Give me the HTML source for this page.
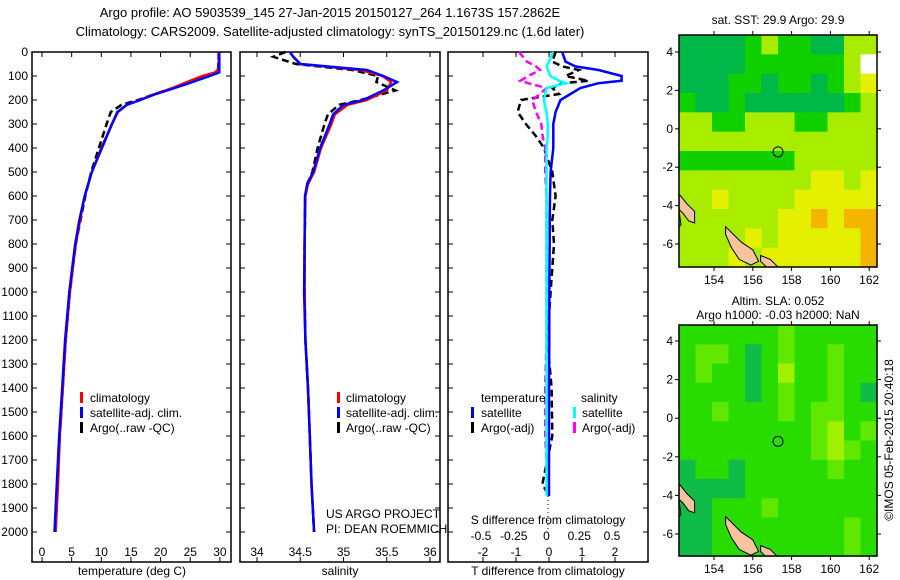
<!DOCTYPE html>
<html><head><meta charset="utf-8"><style>
html,body{margin:0;padding:0;background:#fff;}
svg{display:block;font-family:"Liberation Sans",sans-serif;}
</style></head><body>
<svg id="fig" width="900" height="580" viewBox="0 0 900 580"></svg>
<script>
// ---- data ----
const tDepth=[0,70,85,100,130,150,175,200,220,250,300,400,500,600,700,800,900,1000,1200,1400,1600,1800,2000];
const tClim=[29.8,29.8,29.2,27,24,22,19,16.5,14.3,12.8,11.8,10,8.4,7.2,6.4,5.7,5.2,4.7,4.0,3.5,3.0,2.7,2.3];
const tSat=[29.9,29.9,29.9,28.3,24.8,22.4,19.2,16.6,14.3,12.7,11.8,10.1,8.4,7.2,6.3,5.6,5.1,4.6,3.9,3.4,2.9,2.5,2.1];
const tArgo=[29.8,29.7,29.4,27.3,24.2,22.1,19.0,16.2,13.4,11.6,10.9,9.6,8.3,7.3,6.5,5.7,5.2,4.7,4.0,3.5,3.0,2.6,2.3];
const sDepth=[0,20,50,75,100,125,160,200,220,260,300,400,500,550,600,800,1000,1200,1400,1600,1800,2000];
const sClim=[34.38,34.42,34.5,35.2,35.45,35.55,35.5,35.27,35.05,34.9,34.86,34.74,34.66,34.59,34.56,34.55,34.55,34.56,34.59,34.61,34.63,34.66];
const sSat=[34.38,34.42,34.5,35.27,35.46,35.62,35.46,35.23,35.0,34.88,34.84,34.73,34.65,34.58,34.555,34.55,34.545,34.56,34.59,34.61,34.63,34.66];
const sArgo=[34.33,34.19,34.45,35.1,35.4,35.38,35.6,35.2,34.95,34.82,34.78,34.7,34.64,34.58,34.56,34.55,34.55,34.56,34.59,34.61,34.63,34.66];
const dDepth=[0,40,60,75,100,120,130,150,175,200,250,300,350,400,500,600,700,800,1000,1200,1400,1600,1800,1850];
const dTsat=[0.4,0.5,0.8,1.5,2.2,2.2,1.5,0.95,0.65,0.35,0.2,0.13,0.13,0.13,0.05,0.03,0.02,0.02,0.01,0.01,0,0,0,0];
const dSsat=[0.05,0.02,0,0.01,0.03,0.1,0.15,0,-0.01,-0.02,0,0.01,0.01,0,0,0,0,0,0,0,0,0,0,0];
const dTargo=[0.2,0.1,0.4,0.9,0.5,1.2,0.4,0.1,0.3,-0.85,-0.95,-0.7,-0.4,-0.15,0.1,0.2,0.1,0.15,0.05,-0.05,0.08,0.1,-0.2,0];
const dSargo=[-0.21,-0.15,-0.08,-0.05,-0.14,-0.2,-0.14,0,-0.05,-0.11,-0.08,-0.04,-0.03,-0.01,-0.01,0,0,0,0,0,-0.01,-0.01,0.01,0];
const tTicks=[0,5,10,15,20,25,30];
const sTicks=[34,34.5,35,35.5,36];
const dTticks=[-2,-1,0,1,2];
const dSticks=[-0.5,-0.25,0,0.25,0.5];
const depthTicks=[0,100,200,300,400,500,600,700,800,900,1000,1100,1200,1300,1400,1500,1600,1700,1800,1900,2000];
const sstGrid=[
[0,0,0,0,1,2,1,1,0,0,2,2],[0,0,0,0,1,1,1,1,1,1,2,5],[0,0,0,1,1,0,1,1,0,1,2,3],[1,0,0,1,0,0,0,0,0,0,1,2],
[2,2,1,1,2,2,2,1,1,2,2,2],[2,2,2,2,2,2,2,2,2,2,2,2],[1,1,1,1,1,1,1,2,2,2,2,2],[2,2,2,2,2,2,2,2,3,3,2,3],
[2,2,3,2,2,2,2,3,3,3,3,3],[2,2,2,2,2,2,3,3,4,3,4,4],[2,2,2,2,3,2,3,3,3,3,3,4],[2,2,2,3,2,3,3,3,3,3,3,4]];
const slaGrid=[
[1,1,1,1,1,1,2,1,1,1,1,1],[1,2,2,1,0,1,2,1,1,2,1,1],[1,2,1,1,0,1,3,1,1,2,1,1],[1,1,1,1,0,1,2,1,1,2,1,0],
[1,1,2,1,1,1,2,1,2,2,1,1],[1,1,1,1,1,1,1,1,2,3,1,2],[1,1,1,1,1,1,1,1,2,3,2,1],[0,1,1,0,1,1,1,1,1,2,1,1],
[0,0,0,0,1,1,1,1,1,1,1,1],[0,0,1,1,1,2,1,1,1,1,1,1],[0,0,1,1,1,1,1,1,1,1,2,1],[0,0,1,1,1,1,1,1,1,1,2,1]];
const mapXTicks=[154,156,158,160,162];
const mapYTicks=[4,2,0,-2,-4,-6];
const argoPos=[157.3,-1.2];

const NS='http://www.w3.org/2000/svg';
const svg=document.getElementById('fig');
function el(tag,attrs,parent,txt){const e=document.createElementNS(NS,tag);for(const k in attrs)e.setAttribute(k,attrs[k]);if(txt!==undefined)e.textContent=txt;(parent||svg).appendChild(e);return e;}
const yD=d=>52+d*0.24;
const PT=532, PB=562;

function panel(name,x0,x1){
  const g=el('g',{});
  
  
  el('rect',{x:x0,y:52,width:x1-x0,height:PB-52,fill:'#fff',stroke:'#000','stroke-width':1.5},g);
  return g;
}
function line(g,xs,ys,fx,color,dash,name){
  const p=xs.map((v,i)=>fx(v).toFixed(1)+','+yD(ys[i]).toFixed(1)).join(' ');
  const e=el('polyline',{points:p,fill:'none',stroke:color,'stroke-width':2.5,'stroke-dasharray':dash||'none'},g);
  
  
}
function xTicks(g,ticks,fx,labelY,top,bottom,fmt){
  ticks.forEach(t=>{const x=fx(t);
    if(top)el('line',{x1:x,y1:52,x2:x,y2:57,stroke:'#000'},g);
    if(bottom)el('line',{x1:x,y1:PB,x2:x,y2:PB-5,stroke:'#000'},g);
    if(labelY){const tx=el('text',{x:x,y:labelY,'font-size':12,'text-anchor':'middle'},g,fmt?fmt(t):String(t));
      }
  });
}
function yTicks(g,x0,x1,labels){
  depthTicks.forEach(d=>{const y=yD(d);
    el('line',{x1:x0,y1:y,x2:x0+5,y2:y,stroke:'#000'},g);
    el('line',{x1:x1,y1:y,x2:x1-5,y2:y,stroke:'#000'},g);
    if(labels){const t=el('text',{x:x0-4,y:y+4,'font-size':12,'text-anchor':'end'},g,String(d));
      }
  });
}
function txt(x,y,s,size,anchor,name,g){const t=el('text',{x:x,y:y,'font-size':size,'text-anchor':anchor||'start'},g,s);
  return t;}
function legBar(g,x,y,color){el('rect',{x:x,y:y-10,width:3,height:11,fill:color},g);}

// titles
txt(330,17,'Argo profile: AO 5903539_145 27-Jan-2015 20150127_264 1.1673S 157.2862E',13,'middle','title-line-1');
txt(330,36,'Climatology: CARS2009. Satellite-adjusted climatology: synTS_20150129.nc (1.6d later)',13,'middle','title-line-2');

// panel 1 temperature
const fT=v=>42+v*5.93;
const g1=panel('temperature-panel',32,231);
yTicks(g1,32,231,true);
xTicks(g1,tTicks,fT,556,true,true);
line(g1,tArgo,tDepth,fT,'#000','7,4','argo-temperature-line');
line(g1,tClim,tDepth,fT,'#f00',null,'climatology-temperature-line');
line(g1,tSat,tDepth,fT,'#00f',null,'satellite-temperature-line');
txt(132,575,'temperature (deg C)',12,'middle','x-axis-title-temperature',g1);
legBar(g1,80,402,'#f00');txt(90,402,'climatology',12,'start','legend-climatology',g1);
legBar(g1,80,417,'#00f');txt(90,417,'satellite-adj. clim.',12,'start','legend-satellite',g1);
legBar(g1,80,432,'#000');txt(90,432,'Argo(..raw -QC)',12,'start','legend-argo',g1);

// panel 2 salinity
const fS=v=>257+(v-34)*86.5;
const g2=panel('salinity-panel',240,440);
yTicks(g2,240,440,false);
xTicks(g2,sTicks,fS,556,true,true);
line(g2,sArgo,sDepth,fS,'#000','7,4','argo-salinity-line');
line(g2,sClim,sDepth,fS,'#f00',null,'climatology-salinity-line');
line(g2,sSat,sDepth,fS,'#00f',null,'satellite-salinity-line');
txt(340,575,'salinity',12,'middle','x-axis-title-salinity',g2);
legBar(g2,337,402,'#f00');txt(346,402,'climatology',12,'start','legend-climatology-2',g2);
legBar(g2,337,417,'#00f');txt(346,417,'satellite-adj. clim.',12,'start','legend-satellite-2',g2);
legBar(g2,337,432,'#000');txt(346,432,'Argo(..raw -QC)',12,'start','legend-argo-2',g2);
txt(326,518,'US ARGO PROJECT',12,'start','project-label',g2);
txt(326,533,'PI: DEAN ROEMMICH',12,'start','pi-label',g2);

// panel 3 differences
const fDT=v=>549+v*33;
const fDS=v=>546.5+v*131;
const g3=panel('difference-panel',448,648);
yTicks(g3,448,648,false);
xTicks(g3,dTticks,fDT,556,true,true);
xTicks(g3,dSticks,fDS,540,false,false);
el('line',{x1:548,y1:yD(1850),x2:548,y2:yD(2000),stroke:'#000','stroke-dasharray':'1,3'},g3);
line(g3,dTargo,dDepth,fDT,'#000','7,4','argo-temperature-diff-line');
line(g3,dSargo,dDepth,fDS,'#f0f','7,4','argo-salinity-diff-line');
line(g3,dTsat,dDepth,fDT,'#00f',null,'satellite-temperature-diff-line');
line(g3,dSsat,dDepth,fDS,'#0ff',null,'satellite-salinity-diff-line');
txt(548,524,'S difference from climatology',12,'middle','s-axis-title',g3);
txt(548,575,'T difference from climatology',12,'middle','t-axis-title',g3);
txt(481,402,'temperature',12,'start','legend-temperature-header',g3);
txt(581,402,'salinity',12,'start','legend-salinity-header',g3);
legBar(g3,471,417,'#00f');txt(481,417,'satellite',12,'start','legend-t-satellite',g3);
legBar(g3,471,432,'#000');txt(481,432,'Argo(-adj)',12,'start','legend-t-argo',g3);
legBar(g3,573,417,'#0ff');txt(582,417,'satellite',12,'start','legend-s-satellite',g3);
legBar(g3,573,432,'#f0f');txt(582,432,'Argo(-adj)',12,'start','legend-s-argo',g3);

// maps
const sstCols=['#00b848','#10d000','#a8ec00','#e4f000','#f4b400','#ffffff'];
const slaCols=['#10bc48','#28dc00','#60e800','#a0f000'];
function drawMap(name,top,bottom,lat4,latm6,grid,cols){
  const g=el('g',{});
  
  
  const L=679,R=877;
  const fx=lon=>714+(lon-154)*19.4;
  const fy=lat=>lat4+(4-lat)*(latm6-lat4)/10;
  const lonL=154-(714-L)/19.4, lonR=154+(R-714)/19.4;
  const latT=4-(top-lat4)*10/(latm6-lat4), latB=4-(bottom-lat4)*10/(latm6-lat4);
  const nr=grid.length,nc=grid[0].length;
  const dw=(lonR-lonL)/nc, dh=(latT-latB)/nr;
  grid.forEach((row,r)=>row.forEach((v,c)=>{
    const x=fx(lonL+c*dw), y=fy(latT-r*dh);
    const cell=el('rect',{x:x.toFixed(1),y:y.toFixed(1),width:(dw*19.4+0.6).toFixed(1),height:((bottom-top)/nr+0.6).toFixed(1),fill:cols[v]},g);
    
    
  }));
  // land
  const isl=[[[152.2,-3.4],[152.6,-3.9],[153.0,-4.3],[153.0,-4.9],[152.7,-4.8],[152.4,-4.4],[152.2,-4.2]],
             [[154.6,-5.1],[154.9,-5.4],[155.4,-5.9],[156.0,-6.3],[156.3,-6.9],[155.9,-7.1],[155.3,-6.8],[154.9,-6.2],[154.6,-5.5]],
             [[156.4,-6.6],[156.9,-6.8],[157.3,-7.2],[156.7,-7.2],[156.4,-6.9]],
             [[152.2,-4.3],[152.3,-5.0],[152.2,-5.1]]];
  const clip='clip'+name;
  const cp=el('clipPath',{id:clip},g);el('rect',{x:L,y:top,width:R-L,height:bottom-top},cp);
  isl.forEach(p=>{const e=el('polygon',{points:p.map(q=>fx(q[0]).toFixed(1)+','+fy(q[1]).toFixed(1)).join(' '),fill:'#f5c49c',stroke:'#000','stroke-width':1,'clip-path':'url(#'+clip+')'},g);
    });
  const c=el('circle',{cx:fx(argoPos[0]),cy:fy(argoPos[1]),r:5,fill:'none',stroke:'#000','stroke-width':1},g);
  
  el('rect',{x:L,y:top,width:R-L,height:bottom-top,fill:'none',stroke:'#000','stroke-width':1.5},g);
  mapXTicks.forEach(t=>{const x=fx(t);el('line',{x1:x,y1:top,x2:x,y2:top-4,stroke:'#000'},g);el('line',{x1:x,y1:bottom,x2:x,y2:bottom+4,stroke:'#000'},g);
    txt(x,bottom+17,String(t),12,'middle','map-x-tick-label',g);});
  mapYTicks.forEach(t=>{const y=fy(t);el('line',{x1:L,y1:y,x2:L-4,y2:y,stroke:'#000'},g);el('line',{x1:R,y1:y,x2:R+4,y2:y,stroke:'#000'},g);
    txt(L-6,y+4,t<0?'-'+Math.abs(t):String(t),12,'end','map-y-tick-label',g);});
  return g;
}
drawMap('sst-map',35,267,52,244,sstGrid,sstCols);
txt(778,24,'sat. SST: 29.9 Argo: 29.9',12,'middle','sst-map-title');
drawMap('sla-map',325,556,341,534,slaGrid,slaCols);
txt(778,305,'Altim. SLA: 0.052',12,'middle','sla-map-title-1');
txt(778,319,'Argo h1000: -0.03 h2000: NaN',12,'middle','sla-map-title-2');
const cr=txt(0,0,'©IMOS 05-Feb-2015 20:40:18',12,'middle','timestamp-label');
cr.setAttribute('transform','translate(893,440) rotate(-90)');
</script>
</body></html>
